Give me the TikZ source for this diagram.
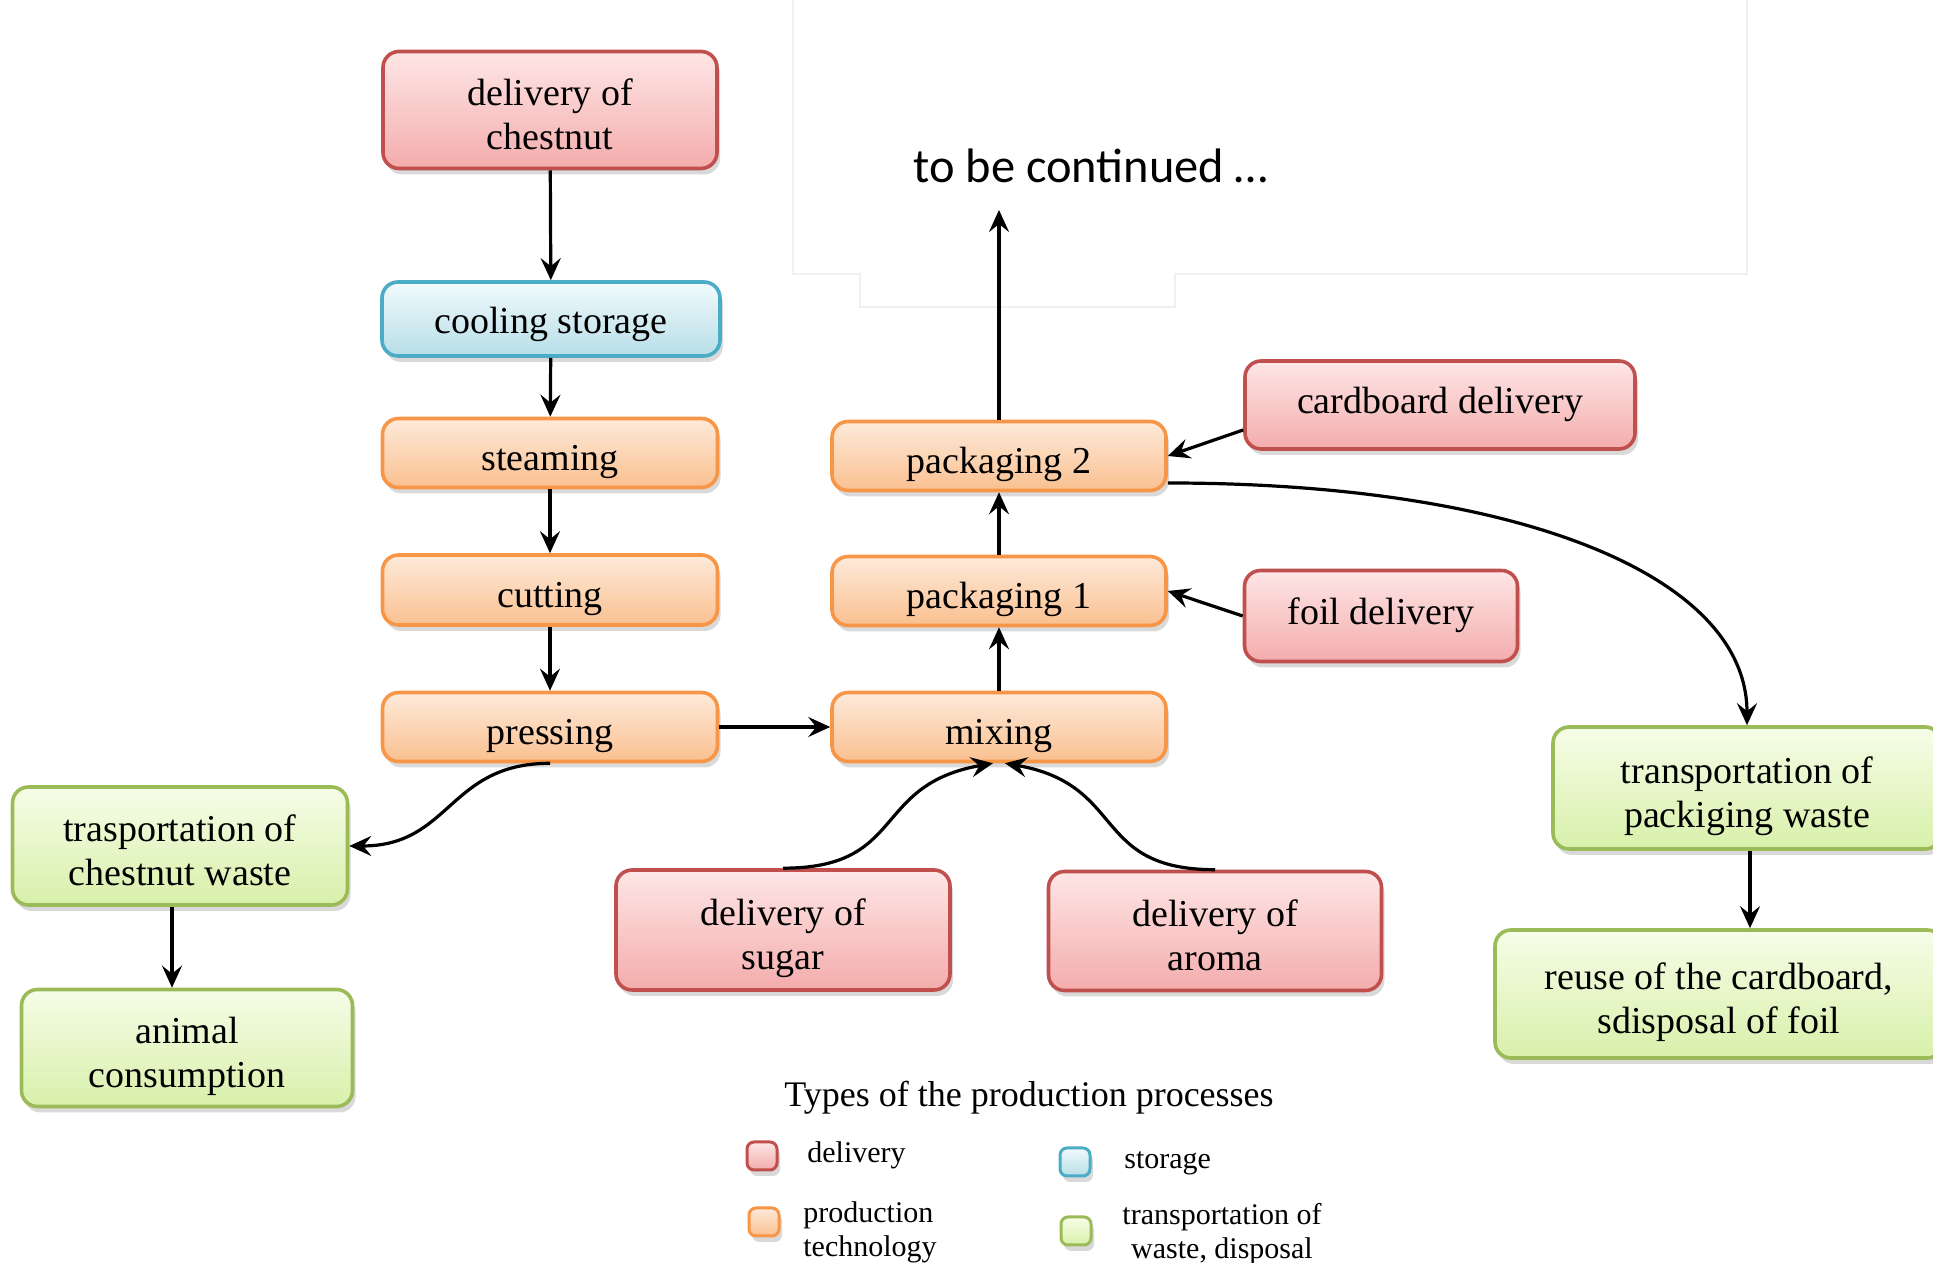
\documentclass[tikz,border=0pt]{standalone}
\usepackage{fontspec}
\setmainfont{Liberation Serif}
\newfontfamily\carl{Carlito}
\usetikzlibrary{shadows,arrows.meta,calc}
\definecolor{delb}{RGB}{192,80,77}
\definecolor{deltop}{RGB}{254,230,230}
\definecolor{delbot}{RGB}{244,172,172}
\definecolor{stob}{RGB}{75,172,198}
\definecolor{stotop}{RGB}{242,250,252}
\definecolor{stobot}{RGB}{183,222,232}
\definecolor{prob}{RGB}{247,150,70}
\definecolor{protop}{RGB}{253,234,218}
\definecolor{probot}{RGB}{250,192,144}
\definecolor{trab}{RGB}{155,187,89}
\definecolor{tratop}{RGB}{246,253,232}
\definecolor{trabot}{RGB}{216,240,170}
\newcommand{\bt}[2][-4.3pt]{\raisebox{#1}[\height][\depth]{\begin{tabular}{@{}c@{}}#2\end{tabular}}}
\begin{document}
\begin{tikzpicture}[x=0.5pt,y=0.5pt,
  box/.style={rectangle, rounded corners=8pt, line width=1.8pt, inner sep=0pt, align=center,
    font=\fontsize{19}{22}\selectfont,
    drop shadow={opacity=0.3, shadow xshift=1.5pt, shadow yshift=-3pt}},
  del/.style={box, draw=delb, top color=deltop, bottom color=delbot},
  sto/.style={box, draw=stob, top color=stotop, bottom color=stobot},
  pro/.style={box, draw=prob, top color=protop, bottom color=probot},
  tra/.style={box, draw=trab, top color=tratop, bottom color=trabot},
  sq/.style={minimum width=15pt, minimum height=14pt, rounded corners=3.5pt, line width=1.5pt},
  leg/.style={font=\fontsize{15}{17}\selectfont, inner sep=0pt},
  arr/.style={-{Stealth[length=11pt,width=10pt,inset=4pt]}, line width=1.6pt}
]
\useasboundingbox (0,0) rectangle (1933,1263);
% faint frame of the pasted area
\draw[black!6, line width=0.6pt] (793,1263) -- (793,989) -- (860,989) -- (860,956) -- (1175,956) -- (1175,989) -- (1747,989) -- (1747,1263);
\node[font=\carl\fontsize{24.2}{27}\selectfont, inner sep=0pt] (cont) at (1091,1097) {to be continued …};
\coordinate (conttip) at (999,1053);

\node[del, minimum width=167pt, minimum height=58.5pt] (chestnut) at (550,1153) {\bt{delivery of\\chestnut}};
\node[sto, minimum width=169pt, minimum height=37pt] (cooling) at (551,944) {\bt[-3pt]{cooling storage}};
\node[pro, minimum width=167.5pt, minimum height=34.5pt] (steaming) at (550,810) {\bt{steaming}};
\node[pro, minimum width=167.5pt, minimum height=35pt] (cutting) at (550,673) {\bt{cutting}};
\node[pro, minimum width=167.5pt, minimum height=34.5pt] (pressing) at (550,536) {\bt{pressing}};
\node[pro, minimum width=167pt, minimum height=34.5pt] (pack2) at (999,807) {\bt{packaging 2}};
\node[pro, minimum width=167pt, minimum height=34.5pt] (pack1) at (999,672) {\bt{packaging 1}};
\node[pro, minimum width=167pt, minimum height=34.5pt] (mixing) at (999,536) {\bt{mixing}};
\node[del, minimum width=195pt, minimum height=44pt] (cardboard) at (1440,858) {\bt[0pt]{cardboard delivery}};
\node[del, minimum width=136.5pt, minimum height=45.5pt] (foil) at (1381,647) {\bt[0pt]{foil delivery}};
\node[tra, minimum width=194pt, minimum height=61pt] (tpw) at (1747,475) {\bt{transportation of\\packiging waste}};
\node[tra, minimum width=224pt, minimum height=64pt] (reuse) at (1719,269) {\bt{reuse of the cardboard,\\sdisposal of foil}};
\node[tra, minimum width=167.5pt, minimum height=59pt] (cwaste) at (180,417) {\bt{trasportation of\\chestnut waste}};
\node[tra, minimum width=165.5pt, minimum height=58.5pt] (animal) at (187,215) {\bt{animal\\consumption}};
\node[del, minimum width=167pt, minimum height=60pt] (sugar) at (783,333) {\bt{delivery of\\sugar}};
\node[del, minimum width=166.5pt, minimum height=59.5pt] (aroma) at (1215,332) {\bt{delivery of\\aroma}};

% legend
\node[font=\fontsize{18}{20}\selectfont, inner sep=0pt] (ltitle) at (1029,165) {Types of the production processes};
\node[del, sq] (sqdel) at (762,107) {};
\node[sto, sq] (sqsto) at (1075,101) {};
\node[pro, sq] (sqpro) at (764,41) {};
\node[tra, sq] (sqtra) at (1076,32) {};
\node[leg, anchor=west] (ldel) at (807,108) {delivery};
\node[leg, anchor=west] (lsto) at (1124,100) {storage};
\node[leg, anchor=west, align=left] (lpro) at (803,31) {production\\technology};
\node[leg, align=center] (ltra) at (1222,29) {transportation of\\waste, disposal};

% connectors
\draw[arr] (chestnut) -- (cooling);
\draw[arr] (cooling) -- (steaming);
\draw[arr] (steaming) -- (cutting);
\draw[arr] (cutting) -- (pressing);
\draw[arr] (pressing) -- (mixing);
\draw[arr] (mixing) -- (pack1);
\draw[arr] (pack1) -- (pack2);
\draw[arr] (pack2.north) -- (conttip);
\draw[arr] ([yshift=-12.5pt]cardboard.west) -- (pack2.east);
\draw[arr] (foil.west) -- (pack1.east);
\draw[arr] ([yshift=-13.5pt]pack2.east) .. controls +(350,0) and +(0,150) .. (tpw.north);
\draw[arr] (pressing.south) to[out=180,in=0,looseness=1.2] (cwaste.east);
\draw[arr] ([xshift=-4pt]cwaste.south) -- ([xshift=-4pt]cwaste.south |- animal.north);
\draw[arr] (sugar.north) to[out=0,in=190,looseness=1.35] ([xshift=-3pt]mixing.south);
\draw[arr] (aroma.north) to[out=180,in=-10,looseness=1.35] ([xshift=3pt]mixing.south);
\draw[arr] ([xshift=1.5pt]tpw.south) -- ([xshift=1.5pt]tpw.south |- reuse.north);
\end{tikzpicture}
\end{document}
